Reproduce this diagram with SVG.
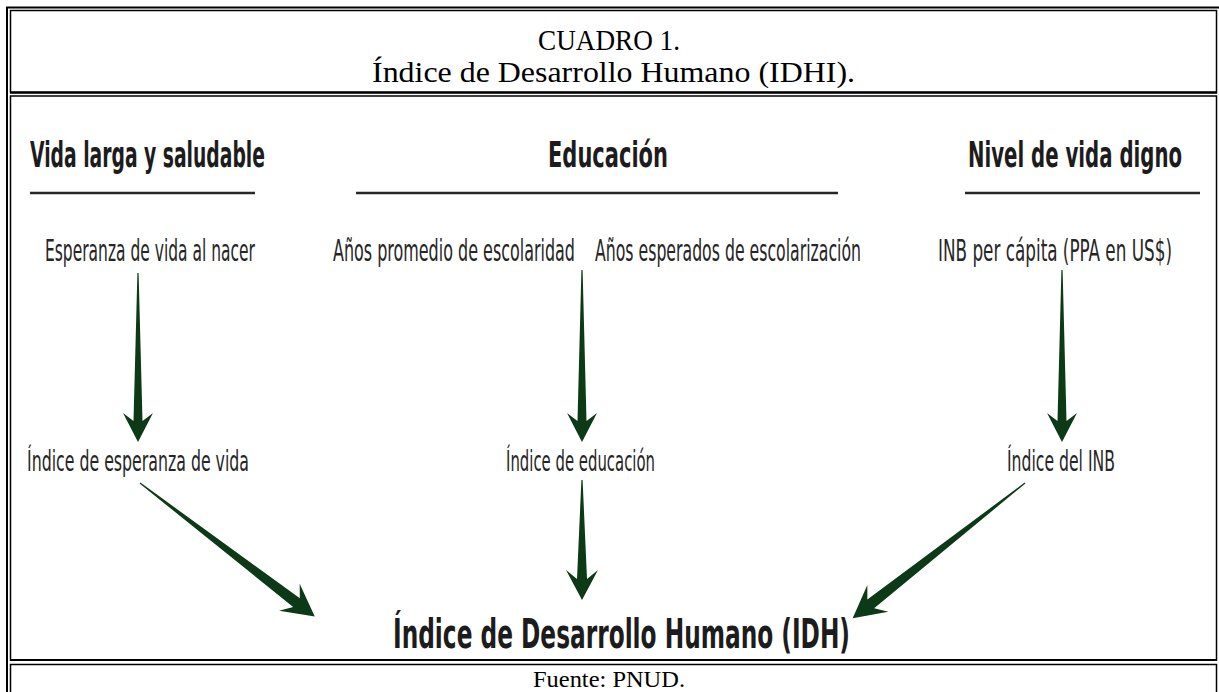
<svg xmlns="http://www.w3.org/2000/svg" width="1219" height="692" viewBox="0 0 1219 692">
<style>
.frame{fill:none;stroke:#000}
.ttl{font-family:"Liberation Serif","Times New Roman",serif;fill:#000}
.hd{font-family:"Liberation Sans Narrow","DejaVu Sans Condensed","Liberation Sans",sans-serif;font-weight:bold;fill:#1c1c1c}
.lb{font-family:"Liberation Sans Narrow","DejaVu Sans Condensed","Liberation Sans",sans-serif;fill:#262626}
.rule{stroke:#262626;stroke-width:2.5}
.arr{fill:#0c3a16}
</style>
<rect width="1219" height="692" fill="#fff"/>
<g id="table">
<rect class="frame" x="7" y="7.5" width="1240" height="720" stroke-width="2"/>
<rect class="frame" x="10.5" y="10.5" width="1206" height="82" stroke-width="1.5"/>
<line class="frame" x1="10" y1="92.5" x2="1217" y2="92.5" stroke-width="2.5"/>
<rect class="frame" x="10.5" y="96" width="1206" height="564" stroke-width="1.5"/>
<line class="frame" x1="10" y1="660" x2="1217" y2="660" stroke-width="2"/>
<rect class="frame" x="10.5" y="664.5" width="1206" height="60" stroke-width="1.5"/>
</g>
<g id="title">
<text class="ttl" x="538" y="50" font-size="29" textLength="142" lengthAdjust="spacingAndGlyphs">CUADRO 1.</text>
<text class="ttl" x="372" y="82" font-size="29" textLength="483" lengthAdjust="spacingAndGlyphs">Índice de Desarrollo Humano (IDHI).</text>
</g>
<g id="heading-vida">
<text class="hd" transform="translate(30,167) scale(1,1.58)" font-size="23" textLength="235" lengthAdjust="spacingAndGlyphs">Vida larga y saludable</text>
<line class="rule" x1="30" y1="193" x2="255" y2="193"/>
</g>
<g id="heading-educacion">
<text class="hd" transform="translate(548,167) scale(1,1.58)" font-size="23" textLength="120" lengthAdjust="spacingAndGlyphs">Educación</text>
<line class="rule" x1="356" y1="193" x2="838" y2="193"/>
</g>
<g id="heading-nivel">
<text class="hd" transform="translate(968,167) scale(1,1.58)" font-size="23" textLength="214" lengthAdjust="spacingAndGlyphs">Nivel de vida digno</text>
<line class="rule" x1="965" y1="193" x2="1200" y2="193"/>
</g>
<g id="esperanza">
<text class="lb" transform="translate(45,261) scale(1,1.55)" font-size="20" textLength="210" lengthAdjust="spacingAndGlyphs">Esperanza de vida al nacer</text>
</g>
<g id="anos-promedio">
<text class="lb" transform="translate(333,261) scale(1,1.55)" font-size="20" textLength="242" lengthAdjust="spacingAndGlyphs">Años promedio de escolaridad</text>
</g>
<g id="anos-esperados">
<text class="lb" transform="translate(595,261) scale(1,1.55)" font-size="20" textLength="266" lengthAdjust="spacingAndGlyphs">Años esperados de escolarización</text>
</g>
<g id="inb">
<text class="lb" transform="translate(938,261) scale(1,1.55)" font-size="20" textLength="234" lengthAdjust="spacingAndGlyphs">INB per cápita (PPA en US$)</text>
</g>
<g id="indice-esperanza">
<text class="lb" transform="translate(27,471) scale(1,1.4)" font-size="20" textLength="222" lengthAdjust="spacingAndGlyphs">Índice de esperanza de vida</text>
</g>
<g id="indice-educacion">
<text class="lb" transform="translate(506,471) scale(1,1.4)" font-size="20" textLength="149" lengthAdjust="spacingAndGlyphs">Índice de educación</text>
</g>
<g id="indice-inb">
<text class="lb" transform="translate(1007,471) scale(1,1.4)" font-size="20" textLength="108" lengthAdjust="spacingAndGlyphs">Índice del INB</text>
</g>
<g id="idh">
<text class="hd" transform="translate(393,648) scale(1,1.25)" font-size="32" textLength="457" lengthAdjust="spacingAndGlyphs" fill="#111">Índice de Desarrollo Humano (IDH)</text>
</g>
<g id="fuente">
<text class="ttl" x="533" y="687" font-size="24" textLength="152" lengthAdjust="spacingAndGlyphs">Fuente: PNUD.</text>
</g>
<g id="connectors">
<polygon class="arr" transform="translate(138,273) rotate(90)" points="0,-0.6 148,-4.5 140,-15 169,0 140,15 148,4.5 0,0.6"/>
<polygon class="arr" transform="translate(582,270) rotate(90)" points="0,-0.6 151,-4.5 143,-15 172,0 143,15 151,4.5 0,0.6"/>
<polygon class="arr" transform="translate(1062,270) rotate(90)" points="0,-0.6 151,-4.5 143,-15 172,0 143,15 151,4.5 0,0.6"/>
<polygon class="arr" transform="translate(582,480) rotate(90)" points="0,-0.6 99,-5 90,-16 120,0 90,16 99,5 0,0.6"/>
<polygon class="arr" transform="translate(140,483) rotate(37.4)" points="0,-0.6 197,-5.5 188,-17 220,0 188,17 197,5.5 0,0.6"/>
<polygon class="arr" transform="translate(1025,483) rotate(141.9)" points="0,-0.6 196,-5.5 187,-17 219,0 187,17 196,5.5 0,0.6"/>
</g>
</svg>
